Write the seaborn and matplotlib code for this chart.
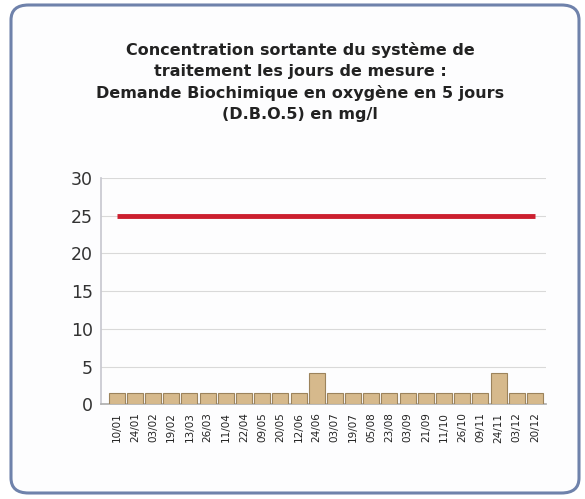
import pandas as pd
import numpy as np
import matplotlib.pyplot as plt
import seaborn as sns
from matplotlib.patches import FancyBboxPatch

# Data
dates = ["10/01", "24/01", "03/02", "19/02", "13/03", "26/03", "11/04", "22/04",
         "09/05", "20/05", "12/06", "24/06", "03/07", "19/07", "05/08", "23/08",
         "03/09", "21/09", "11/10", "26/10", "09/11", "24/11", "03/12", "20/12"]
dbo5 = [1.5, 1.5, 1.5, 1.5, 1.5, 1.5, 1.5, 1.5, 1.5, 1.5, 1.5, 4.2,
        1.5, 1.5, 1.5, 1.5, 1.5, 1.5, 1.5, 1.5, 1.5, 4.2, 1.5, 1.5]
limit = [25] * len(dates)

df = pd.DataFrame({"Date": dates, "DBO5": dbo5, "Limite": limit})

sns.set_theme(style="white")
plt.rcParams["font.family"] = ["DejaVu Sans"]

fig = plt.figure(figsize=(5.85, 4.99), dpi=100)
fig.patch.set_facecolor("white")

# rounded frame around the whole chart
frame = FancyBboxPatch((11 / 585, 6 / 499), 568 / 585, 488 / 499,
                       boxstyle="round,pad=0,rounding_size=0.03",
                       transform=fig.transFigure, facecolor="#fdfdfe",
                       edgecolor="#6f82ab", linewidth=2.2, zorder=-5)
fig.patches.append(frame)

ax = fig.add_axes([0.173, 0.19, 0.76, 0.453])
ax.set_facecolor("none")
ax.set_zorder(2)

sns.barplot(data=df, x="Date", y="DBO5", color="#d6b98c", edgecolor="#9c835c",
            linewidth=0.8, width=0.88, saturation=1, ax=ax, zorder=3)
ax.plot(np.arange(len(dates)), df["Limite"], color="#cc1f2f", linewidth=3.5,
        solid_capstyle="butt", zorder=4)

ax.set_ylim(0, 30)
ax.set_yticks(range(0, 31, 5))
ax.set_xlim(-0.85, len(dates) - 0.4)
ax.yaxis.grid(True, color="#d9d9d9", linewidth=0.8)
ax.set_axisbelow(True)
for side in ["top", "right"]:
    ax.spines[side].set_visible(False)
ax.spines["left"].set_color("#c8c8d0")
ax.spines["bottom"].set_color("#b0b0b0")

ax.tick_params(axis="y", labelsize=12.5, labelcolor="#333333", length=0, pad=6)
ax.tick_params(axis="x", labelsize=7.5, labelcolor="#222222", length=0,
               rotation=90, pad=6)
ax.set_xlabel("")
ax.set_ylabel("")

fig.text(0.513, 0.836,
         "Concentration sortante du système de\n"
         "traitement les jours de mesure :\n"
         "Demande Biochimique en oxygène en 5 jours\n"
         "(D.B.O.5) en mg/l",
         ha="center", va="center", fontsize=11.5, fontweight="bold",
         color="#222222", linespacing=1.5)

plt.savefig("out.png", dpi=100)
plt.close()
